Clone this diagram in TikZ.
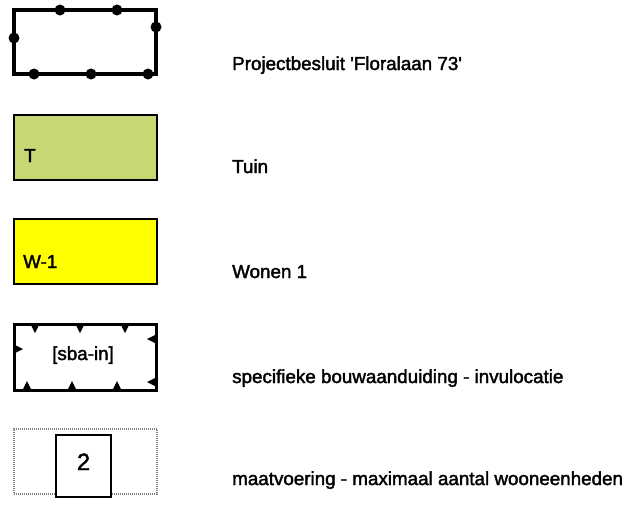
\documentclass[tikz,border=0pt]{standalone}
\usepackage{fontspec}
\setmainfont{Liberation Sans}[Ligatures=TeXOff,FakeBold=2]
\definecolor{tuingreen}{RGB}{200,214,115}
\definecolor{wonyellow}{RGB}{255,255,0}
\newcommand{\lbl}{\fontsize{18.8}{22}\selectfont}

\begin{document}
\begin{tikzpicture}[x=1pt,y=-1pt,
    box/.style={draw,rectangle,inner sep=0pt,outer sep=0pt},
    txt/.style={inner sep=0pt,anchor=base west,font=\lbl}]
        \useasboundingbox (0,0) rectangle (636,507);

        \node[box,line width=3.5pt,minimum width=142pt,minimum height=64pt] (plan) at (85,42) {};
        \fill (60,10) circle (5.5); \fill (117,10) circle (5.5);
        \fill (156,27) circle (5.5); \fill (14,38) circle (5.5);
        \fill (34,74) circle (5.5); \fill (91,74) circle (5.5); \fill (148,74) circle (5.5);

        \node[box,line width=2.5pt,fill=tuingreen,minimum width=143pt,minimum height=65pt] (tuin) at (85.5,147.5) {};
        \node[txt] (tuinT) at (24,162) {T};

        \node[box,line width=2.5pt,fill=wonyellow,minimum width=143pt,minimum height=65pt] (won) at (85.5,251.5) {};
        \node[txt] (wonW) at (23,268) {W-1};

        \node[box,line width=3pt,minimum width=142pt,minimum height=66pt] (sba) at (85,357) {};
        \fill (30.5,324) -- (39.5,324) -- (35,333) -- cycle;
        \fill (75.5,324) -- (84.5,324) -- (80,333) -- cycle;
        \fill (120.5,324) -- (129.5,324) -- (125,333) -- cycle;
        \fill (22.5,390) -- (31.5,390) -- (27,381) -- cycle;
        \fill (67.5,390) -- (76.5,390) -- (72,381) -- cycle;
        \fill (112.5,390) -- (121.5,390) -- (117,381) -- cycle;
        \fill (14,344.5) -- (14,353.5) -- (23,349) -- cycle;
        \fill (156,334.5) -- (156,343.5) -- (147,339) -- cycle;
        \fill (156,377.5) -- (156,386.5) -- (147,382) -- cycle;
        \node[inner sep=0pt,anchor=base,font=\lbl] (sbaT) at (83,360) {[sba-in]};

        \node[box,draw=gray,line width=1.5pt,dash pattern=on 1pt off 1pt,minimum width=143pt,minimum height=65pt] (maat) at (85.5,461.5) {};
        \node[box,line width=1.8pt,fill=white,minimum width=55pt,minimum height=62pt] (maatsq) at (83.5,466) {};
        \node[inner sep=0pt,anchor=base,font=\fontsize{23.5}{28}\selectfont] (maatT) at (83.5,470) {2};

        \node[txt] (planL) at (232,70) {Projectbesluit 'Floralaan 73'};
        \node[txt] (tuinL) at (232,173) {Tuin};
        \node[txt] (wonL) at (232,278) {Wonen 1};
        \node[txt] (sbaL) at (232,383) {specifieke bouwaanduiding - invulocatie};
        \node[txt] (maatL) at (232,485) {maatvoering - maximaal aantal wooneenheden};
      \end{tikzpicture}
\end{document}
